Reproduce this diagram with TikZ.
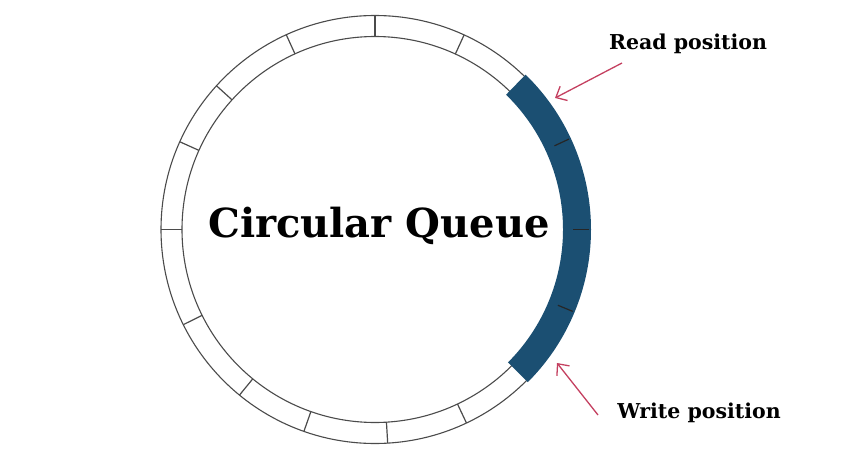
\documentclass[tikz,border=0pt]{standalone}
\usepackage{fontspec}
\setmainfont{DejaVu Serif}
\usetikzlibrary{calc,arrows.meta}
\definecolor{qblue}{RGB}{27,79,114}
\definecolor{ringgray}{RGB}{75,75,75}
\definecolor{arrowred}{RGB}{196,64,96}
\tikzset{
  ring/.style={draw=ringgray, line width=1.1pt},
  tick/.style={draw=ringgray, line width=1.2pt},
  btick/.style={draw=black!85, line width=1.2pt},
  pointer/.style={draw=arrowred, line width=1.3pt, -{Straight Barb[length=9pt,width=16pt,line width=1.3pt]}},
  label/.style={font=\bfseries\fontsize{20.5}{22}\selectfont, text=black, inner sep=0pt},
}
\begin{document}
\begin{tikzpicture}[x=1pt,y=-1pt]
\useasboundingbox (0,0) rectangle (854,452);
\coordinate (c) at (375,229.5);
% ring
\draw[ring] (c) circle (214pt);
\draw[ring] (c) circle (193pt);
% blue filled segment (read .. write)
\fill[qblue] ($(c)+(-45:188pt)$) arc[start angle=-45, end angle=45.8, radius=188pt]
  -- ($(c)+(45.8:216pt)$) arc[start angle=45.8, end angle=-45, radius=216pt] -- cycle;
% ticks
\foreach \a in {90,114.5,137.8,155.8,180,206.4,230.7,250.6,273.4,295.3,65.4}{
  \draw[tick] ($(c)+(\a:193pt)$) -- ($(c)+(\a:214pt)$);
}
\foreach \a in {-22.5,0,25}{
  \draw[btick] ($(c)+(\a:198pt)$) -- ($(c)+(\a:214pt)$);
}
% title
\node[font=\bfseries\fontsize{40}{44}\selectfont, anchor=base, inner sep=0pt] (title) at (379,237) {Circular Queue};
% labels
\node[label, anchor=base] (read) at (688,50) {Read position};
\node[label, anchor=base] (write) at (699,418) {Write position};
% arrows
\coordinate (readfrom) at (622,63);
\coordinate (readto) at (555,98);
\coordinate (writefrom) at (598,415);
\coordinate (writeto) at (557,363);
\draw[pointer] (readfrom) -- (readto);
\draw[pointer] (writefrom) -- (writeto);
\end{tikzpicture}
\end{document}
